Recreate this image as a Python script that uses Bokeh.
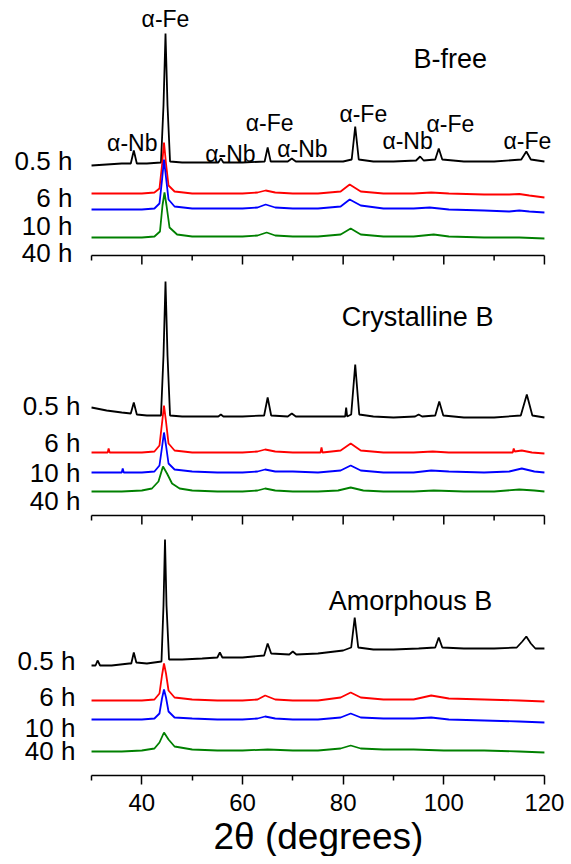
from bokeh.plotting import figure
from bokeh.models import Range1d, FixedTicker, Label, Title
from bokeh.embed import file_html
from bokeh.resources import INLINE

FONT = "Liberation Sans"

# ---------------- data (intensity in arbitrary units, offset per trace) ----------------
hours = ["0.5 h", "6 h", "10 h", "40 h"]
colors = ["#000000", "#ff0000", "#0000ff", "#008000"]
axis_bounds = [30, 120]
tick_values = [40, 60, 80, 100, 120]
minor_tick_values = [30, 50, 70, 90, 110]
panel_titles = ["B-free", "Crystalline B", "Amorphous B"]

# Panel 1: B-free
bfree_05_x = [30, 33, 36, 37.8, 38.4, 39.0, 41, 43.8, 44.3, 44.7, 45.1, 45.6, 48, 52, 55.2, 55.7, 56.2, 60,
              64.4, 65.0, 65.6, 69.0, 69.8, 70.6, 75, 80, 81.7, 82.4, 83.1, 86, 90, 94.5, 95.3, 96.0, 98.3,
              99.0, 99.7, 104, 110, 115.4, 116.4, 117.3, 120]
bfree_05_y = [90, 91, 92, 92, 105, 92, 92, 93, 150, 222, 150, 94, 93, 93, 93, 97, 93, 93,
              94, 108, 94, 94, 97, 94, 94, 94, 96, 129, 96, 94, 94, 95, 99, 95, 96,
              107, 96, 94, 94, 96, 104, 96, 94]
bfree_6_x = [30, 36, 40, 42.5, 43.5, 44.0, 44.4, 44.8, 45.3, 46.5, 50, 55, 60, 63, 64.6, 66.5, 70, 75,
             79.5, 81.3, 83.5, 88, 94, 97.5, 101, 108, 113, 115, 117, 120]
bfree_6_y = [62, 62, 62, 63, 67, 90, 113, 92, 70, 64, 62, 62, 62, 63, 65, 63, 62, 62,
             64, 71, 64, 62, 62, 63, 62, 61, 61, 61.5, 60, 58]
bfree_10_x = [30, 36, 40, 42.5, 43.5, 44.0, 44.4, 44.8, 45.3, 46.5, 50, 55, 60, 63, 64.6, 66.5, 70, 75,
              79.5, 81.3, 83.5, 88, 94, 97.2, 101, 108, 113, 115, 117, 120]
bfree_10_y = [46, 46, 46, 47, 52, 75, 96, 78, 56, 49, 47, 47, 47, 48, 51, 48, 47, 47,
              49, 56, 50, 47, 47, 48, 46, 45, 44, 45, 44, 43]
bfree_40_x = [30, 36, 40, 42.5, 43.6, 44.1, 44.5, 44.9, 45.5, 47, 50, 55, 60, 63, 64.8, 66.5, 70, 75,
              79.5, 81.5, 83.5, 88, 94, 98, 101, 108, 115, 120]
bfree_40_y = [18, 18, 18, 19, 24, 50, 63, 50, 28, 21, 19, 19, 19, 20, 23, 20, 19, 19,
              21, 27, 21, 19, 19, 21, 19, 18, 18, 17]

# Panel 2: Crystalline B
cryst_05_x = [30, 33, 36, 37.8, 38.4, 39.0, 41, 43.8, 44.3, 44.7, 45.1, 45.6, 48, 52, 55.2, 55.7, 56.2, 60,
              64.3, 65.0, 65.7, 69.0, 69.8, 70.6, 75, 80.4, 80.6, 80.8, 81.6, 82.4, 83.2, 86, 90, 94.3,
              95.0, 95.7, 98.3, 99.1, 99.9, 104, 110, 115.3, 116.5, 117.6, 120]
cryst_05_y = [108, 105, 103, 102, 113, 101, 100, 100, 160, 234, 160, 100, 99, 99, 99, 101, 99, 99,
              100, 118, 100, 99, 102, 99, 99, 99, 108, 99, 101, 151, 101, 99, 98, 99,
              101, 99, 100, 114, 100, 98, 98, 100, 121, 100, 98]
cryst_6_x = [30, 33.2, 33.4, 33.6, 36, 40, 42.5, 43.5, 44.0, 44.4, 44.8, 45.3, 46.5, 50, 55, 60, 63, 64.5,
             66.5, 70, 75.5, 75.7, 75.9, 79.5, 81.5, 83.5, 88, 94, 97.8, 101, 108, 113.7, 113.9, 114.1,
             115.5, 117.5, 120]
cryst_6_y = [63, 63, 67, 63, 63, 63, 64, 70, 92, 110, 94, 72, 65, 63, 63, 63, 64, 66,
             64, 63, 63, 68, 63, 65, 72, 65, 63, 63, 64, 63, 63, 63, 67, 64,
             65, 63, 62]
cryst_10_x = [30, 36.0, 36.2, 36.4, 40, 42.5, 43.5, 44.0, 44.4, 44.8, 45.3, 46.5, 50, 55, 60, 63, 64.5, 66.5,
              70, 75, 79.5, 81.5, 83.5, 88, 94, 97.5, 101, 108, 113, 115.5, 118, 120]
cryst_10_y = [43, 43, 47, 43, 43, 44, 50, 68, 83, 70, 52, 46, 44, 43, 43, 44, 46, 44,
              44, 43, 45, 50, 45, 43, 43, 45, 44, 43, 44, 47, 44, 43]
cryst_40_x = [30, 36, 40, 42, 43.3, 44.2, 45.0, 46, 47.5, 50, 55, 60, 63, 64.5, 66.5, 70, 75, 79,
              81.5, 84, 88, 94, 98, 104, 110, 115, 118, 120]
cryst_40_y = [24, 24, 25, 27, 34, 49, 42, 32, 27, 25, 24, 24, 25, 27, 25, 24, 24, 25,
              28, 25, 24, 24, 25, 24, 24, 26, 25, 24]

# Panel 3: Amorphous B
amor_05_x = [30, 30.8, 31.2, 31.7, 34, 37.5, 37.9, 38.4, 38.9, 41, 43.9, 44.3, 44.6, 44.9, 45.4, 48, 52,
             55.0, 55.5, 56.0, 60, 64.3, 65.0, 65.7, 69.3, 70.0, 70.7, 75, 80.0, 81.6, 82.3, 83.0, 86, 90,
             95, 98.3, 99.0, 99.7, 104, 110, 114.5, 115.6, 116.4, 117.3, 118.2, 120]
amor_05_y = [110, 110, 115, 110, 110, 112, 112, 123, 113, 112, 114, 170, 236, 170, 116, 116, 117,
             118, 123, 118, 118, 120, 132, 122, 121, 124, 121, 122, 125, 128, 158, 128, 126, 126,
             127, 128, 138, 128, 127, 127, 128, 134, 139, 132, 127, 127]
amor_6_x = [30, 36, 40, 42.5, 43.5, 44.0, 44.4, 44.8, 45.3, 46.5, 50, 55, 60, 63, 64.5, 66.5, 70, 75,
            79.5, 81.5, 83.5, 88, 94, 97.5, 101, 108, 115, 120]
amor_6_y = [75, 75, 75, 76, 82, 100, 112, 102, 85, 78, 76, 75, 75, 76, 80, 76, 75, 75,
            78, 83, 78, 76, 76, 80, 77, 76, 75, 74]
amor_10_x = [30, 36, 40, 42.5, 43.5, 44.0, 44.4, 44.8, 45.3, 46.5, 50, 55, 60, 63, 64.5, 66.5, 70, 75,
             79.5, 81.5, 83.5, 88, 94, 97.5, 101, 108, 115, 120]
amor_10_y = [56, 56, 56, 57, 62, 77, 86, 78, 64, 58, 57, 56, 56, 57, 59, 57, 56, 56,
             58, 62, 58, 57, 57, 58, 56, 55, 54, 53]
amor_40_x = [30, 36, 40, 42.5, 43.5, 44.4, 45.3, 46.5, 50, 55, 60, 65, 70, 75, 79.5, 81.5, 83.5, 88,
             94, 100, 108, 115, 120]
amor_40_y = [24, 24, 25, 27, 33, 43, 36, 29, 26, 25, 25, 26, 25, 25, 27, 30, 27, 26,
             26, 25, 25, 24, 23]

# Peak labels (panel 1)
peak_names = ["α-Fe", "α-Nb", "α-Nb", "α-Fe", "α-Nb", "α-Fe", "α-Nb", "α-Fe", "α-Fe"]
peak_name_x = [44.7, 38.1, 57.6, 65.4, 71.9, 84.0, 92.8, 101.3, 116.6]
peak_name_y = [237, 113, 102, 133, 107, 142, 115, 132, 115]

# ---------------- layout ----------------
panel_offsets = [520, 260, 0]
title_x = [101.3, 94.8, 93.4]
title_y = [197, 199, 175]
hour_label_x = [26.2, 27.8, 26.8]
hour_label_y = [[95, 58, 30, 3], [110, 73, 43, 15], [115, 79, 48, 25]]

panel_traces = [
    [(bfree_05_x, bfree_05_y), (bfree_6_x, bfree_6_y), (bfree_10_x, bfree_10_y), (bfree_40_x, bfree_40_y)],
    [(cryst_05_x, cryst_05_y), (cryst_6_x, cryst_6_y), (cryst_10_x, cryst_10_y), (cryst_40_x, cryst_40_y)],
    [(amor_05_x, amor_05_y), (amor_6_x, amor_6_y), (amor_10_x, amor_10_y), (amor_40_x, amor_40_y)],
]

FRAME_H = 773
p = figure(frame_width=546, frame_height=FRAME_H,
           x_range=Range1d(13.5, 122), y_range=Range1d(0, FRAME_H),
           output_backend="svg", toolbar_location=None, y_axis_location=None,
           min_border_left=8, min_border_right=10, min_border_top=2, min_border_bottom=0)
p.outline_line_color = None
p.xgrid.visible = False
p.ygrid.visible = False
p.background_fill_color = "white"

AXW = 1.5
for i in range(3):
    off = panel_offsets[i]
    for (xs, ys), c in zip(panel_traces[i], colors):
        p.line(xs, [v + off for v in ys], line_color=c, line_width=1.8)

    if i < 2:
        # axis line and ticks of the upper panels
        p.line(axis_bounds, [off, off], line_color="black", line_width=AXW)
        p.segment(x0=tick_values, y0=[off] * len(tick_values), x1=tick_values,
                  y1=[off - 9] * len(tick_values), line_color="black", line_width=AXW)
        p.segment(x0=minor_tick_values, y0=[off] * len(minor_tick_values), x1=minor_tick_values,
                  y1=[off - 5] * len(minor_tick_values), line_color="black", line_width=AXW)

    for h, hy in zip(hours, hour_label_y[i]):
        p.add_layout(Label(x=hour_label_x[i], y=hy + off, text=h, text_font=FONT, text_font_size="26px",
                           text_align="right", text_baseline="middle", text_color="black"))
    p.add_layout(Label(x=title_x[i], y=title_y[i] + off, text=panel_titles[i], text_font=FONT,
                       text_font_size="27px", text_align="center", text_baseline="middle",
                       text_color="black"))
    if i == 0:
        for t, px, py in zip(peak_names, peak_name_x, peak_name_y):
            p.add_layout(Label(x=px, y=py + off, text=t, text_font=FONT, text_font_size="23px",
                               text_align="center", text_baseline="middle", text_color="black"))

ax = p.xaxis[0]
ax.bounds = tuple(axis_bounds)
ax.ticker = FixedTicker(ticks=tick_values, minor_ticks=minor_tick_values)
ax.axis_line_width = AXW
ax.axis_line_color = "black"
ax.major_tick_line_width = AXW
ax.minor_tick_line_width = AXW
ax.major_tick_out = 9
ax.major_tick_in = 0
ax.minor_tick_out = 5
ax.minor_tick_in = 0
ax.major_label_text_font = FONT
ax.major_label_text_font_size = "24px"
ax.major_label_text_color = "black"
ax.major_label_standoff = 9

xlabel = Title(text="2θ (degrees)", align="left", offset=205, standoff=0,
               text_font=FONT, text_font_size="37px", text_font_style="normal", text_color="black")
p.add_layout(xlabel, "below")

open("out.html", "w").write(file_html(p, INLINE))
